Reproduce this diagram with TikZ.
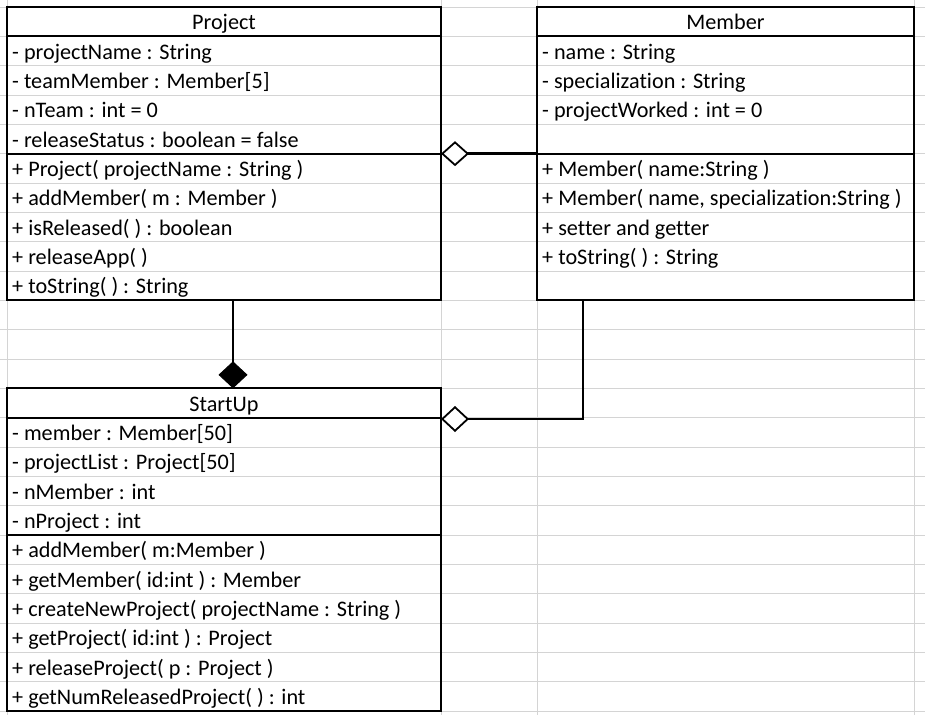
\documentclass[tikz,border=0pt]{standalone}
\usepackage{fontspec}
\setmainfont[Ligatures={NoCommon}]{Carlito}
\usetikzlibrary{arrows.meta,calc}
\begin{document}
\begin{tikzpicture}[x=1pt,y=-1pt,
  gridline/.style={draw=black!17, line width=1pt},
  box/.style={draw=black, line width=2pt, inner sep=0pt, outer sep=0pt, anchor=north west},
  sep/.style={draw=black, line width=2pt},
  txt/.style={anchor=base west, inner sep=0pt, font=\fontsize{22.2}{26}\selectfont},
  hdr/.style={anchor=base, inner sep=0pt, font=\fontsize{22.2}{26}\selectfont},
  conn/.style={draw=black, line width=2.6pt},
]
\def\rh{29.333}
\useasboundingbox (0,0) rectangle (925,715);
\fill[white] (0,0) rectangle (925,715);
% spreadsheet grid
\foreach \k in {0,...,24} \draw[gridline] (0,7+\k*\rh) -- (925,7+\k*\rh);
\foreach \x in {7,441,537,914} \draw[gridline] (\x,0) -- (\x,715);

% boxes
\node[box, minimum width=434pt, minimum height=293.33pt] (project) at (7,7) {};
\node[box, minimum width=377pt, minimum height=293.33pt] (member) at (537,7) {};
\node[box, minimum width=434pt, minimum height=322.67pt] (startup) at (7,388.33) {};

% compartment separators
\draw[sep] ($(project.north west)+(0,\rh)$) -- ($(project.north east)+(0,\rh)$);
\draw[sep] ($(project.north west)+(0,5*\rh)$) -- ($(project.north east)+(0,5*\rh)$);
\draw[sep] ($(member.north west)+(0,\rh)$) -- ($(member.north east)+(0,\rh)$);
\draw[sep] ($(member.north west)+(0,5*\rh)$) -- ($(member.north east)+(0,5*\rh)$);
\draw[sep] ($(startup.north west)+(0,\rh)$) -- ($(startup.north east)+(0,\rh)$);
\draw[sep] ($(startup.north west)+(0,5*\rh)$) -- ($(startup.north east)+(0,5*\rh)$);

% headers
\node[hdr] (projectH) at (224,7+\rh-6.5) {Project};
\node[hdr] (memberH) at (725.5,7+\rh-6.5) {Member};
\node[hdr] (startupH) at (224,388.33+\rh-6.5) {StartUp};

% Project rows
\foreach [count=\i] \t in {{- projectName : String},{- teamMember : Member[5]},{- nTeam : int = 0},{- releaseStatus : boolean = false},{+ Project( projectName : String )},{+ addMember( m : Member )},{+ isReleased( ) : boolean},{+ releaseApp( )},{+ toString( ) : String}}
  \node[txt] (p\i) at (12,7+\i*\rh+\rh-6.5) {\t};

% Member rows
\foreach [count=\i] \t in {{- name : String},{- specialization : String},{- projectWorked : int = 0}}
  \node[txt] (ma\i) at (542,7+\i*\rh+\rh-6.5) {\t};
\foreach [count=\i from 5] \t in {{+ Member( name:String )},{+ Member( name, specialization:String )},{+ setter and getter},{+ toString( ) : String}}
  \node[txt] (mm\i) at (542,7+\i*\rh+\rh-6.5) {\t};

% StartUp rows
\foreach [count=\i] \t in {{- member : Member[50]},{- projectList : Project[50]},{- nMember : int},{- nProject : int},{+ addMember( m:Member )},{+ getMember( id:int ) : Member},{+ createNewProject( projectName : String )},{+ getProject( id:int ) : Project},{+ releaseProject( p : Project )},{+ getNumReleasedProject( ) : int}}
  \node[txt] (s\i) at (12,388.33+\i*\rh+\rh-6.5) {\t};

% connectors
\coordinate (cj) at (233,0);
\coordinate (mj) at (583,0);
\coordinate (sj) at (441,419);
\draw[conn, -{Diamond[open, fill=white, line width=1.8pt, length=28pt, width=25pt]}] (member.west) -- (project.east);
\draw[conn, -{Diamond[line width=1pt, length=27pt, width=29pt]}] (project.south -| cj) -- (startup.north -| cj);
\draw[conn, -{Diamond[open, fill=white, line width=1.8pt, length=28pt, width=26pt]}] (member.south -| mj) |- (sj);
\end{tikzpicture}
\end{document}
